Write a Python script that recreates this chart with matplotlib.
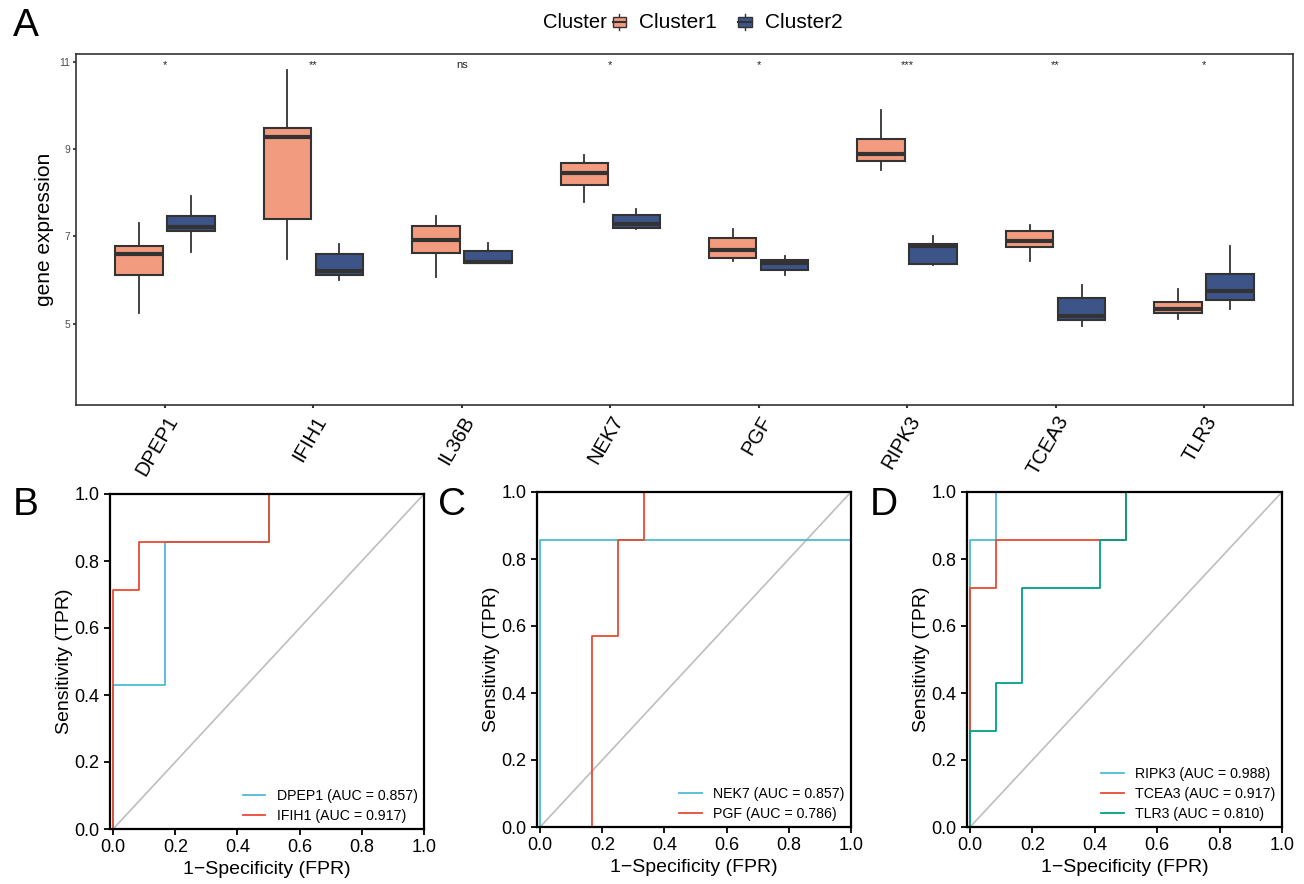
import matplotlib
matplotlib.use("Agg")
import matplotlib.pyplot as plt
from matplotlib.legend_handler import HandlerBase
from matplotlib.patches import Rectangle
from matplotlib.lines import Line2D

plt.rcParams['font.family'] = ['Liberation Sans', 'DejaVu Sans']

# ---- panel A data (box stats) ----
genes = ["DPEP1", "IFIH1", "IL36B", "NEK7", "PGF", "RIPK3", "TCEA3", "TLR3"]
signif = ["*", "**", "ns", "*", "*", "***", "**", "*"]
# each entry: whisker low, q1, median, q3, whisker high
c1_stats = [
    [5.24, 6.12, 6.61, 6.78, 7.32],
    [6.48, 7.39, 9.27, 9.48, 10.81],
    [6.07, 6.62, 6.91, 7.25, 7.47],
    [7.78, 8.19, 8.45, 8.69, 8.87],
    [6.43, 6.50, 6.68, 6.97, 7.17],
    [8.53, 8.73, 8.89, 9.24, 9.90],
    [6.43, 6.75, 6.90, 7.13, 7.26],
    [5.12, 5.24, 5.34, 5.51, 5.79],
]
c2_stats = [
    [6.65, 7.13, 7.22, 7.48, 7.92],
    [6.00, 6.11, 6.21, 6.60, 6.82],
    [6.39, 6.39, 6.42, 6.67, 6.86],
    [7.17, 7.19, 7.29, 7.49, 7.64],
    [6.11, 6.23, 6.39, 6.47, 6.55],
    [6.35, 6.37, 6.79, 6.83, 7.00],
    [4.95, 5.09, 5.17, 5.60, 5.90],
    [5.33, 5.55, 5.76, 6.13, 6.78],
]

# ---- ROC data (FPR / TPR steps) ----
fpr_dpep1 = [0, 0, 0.1667, 0.1667, 0.5, 0.5, 1]
tpr_dpep1 = [0, 0.4286, 0.4286, 0.8571, 0.8571, 1, 1]
fpr_ifih1 = [0, 0, 0.0833, 0.0833, 0.5, 0.5, 1]
tpr_ifih1 = [0, 0.7143, 0.7143, 0.8571, 0.8571, 1, 1]

fpr_nek7 = [0, 0, 1, 1]
tpr_nek7 = [0, 0.8571, 0.8571, 1]
fpr_pgf = [0, 0.1667, 0.1667, 0.25, 0.25, 0.3333, 0.3333, 1]
tpr_pgf = [0, 0, 0.5714, 0.5714, 0.8571, 0.8571, 1, 1]

fpr_ripk3 = [0, 0, 0.0833, 0.0833, 1]
tpr_ripk3 = [0, 0.8571, 0.8571, 1, 1]
fpr_tcea3 = [0, 0, 0.0833, 0.0833, 0.5, 0.5, 1]
tpr_tcea3 = [0, 0.7143, 0.7143, 0.8571, 0.8571, 1, 1]
fpr_tlr3 = [0, 0, 0.0833, 0.0833, 0.1667, 0.1667, 0.4167, 0.4167, 0.5, 0.5, 1]
tpr_tlr3 = [0, 0.2857, 0.2857, 0.4286, 0.4286, 0.7143, 0.7143, 0.8571, 0.8571, 1, 1]

col1 = "#F39B7F"
col2 = "#3C5488"
edge = "#333333"
blue = "#4DBBD5"
red = "#E64B35"
green = "#00A087"


def to_bxp(stats):
    return [dict(whislo=s[0], q1=s[1], med=s[2], q3=s[3], whishi=s[4], fliers=[]) for s in stats]


class BoxHandler(HandlerBase):
    def create_artists(self, legend, orig_handle, xd, yd, width, height, fontsize, trans):
        cx = xd + width / 2
        w = height * 0.9
        r = Rectangle((cx - w / 2, yd + height * 0.05), w, height * 0.7,
                      facecolor=orig_handle.get_facecolor(), edgecolor=edge, lw=1, transform=trans)
        m = Line2D([cx - w / 2, cx + w / 2], [yd + height * 0.4] * 2, color=edge, lw=1.5, transform=trans)
        wl = Line2D([cx, cx], [yd - height * 0.15, yd + height * 0.05], color=edge, lw=1, transform=trans)
        wh = Line2D([cx, cx], [yd + height * 0.75, yd + height * 0.9], color=edge, lw=1, transform=trans)
        return [wl, wh, r, m]


fig = plt.figure(figsize=(13.04, 8.84), dpi=100)
W, H = 1304, 884


def axes_px(l, t, r, b):
    return fig.add_axes([l / W, 1 - b / H, (r - l) / W, (b - t) / H])


# ---- panel A ----
ax = axes_px(76, 54, 1293, 405)
pos = list(range(1, len(genes) + 1))
for stats, off, col in [(c1_stats, -0.175, col1), (c2_stats, 0.175, col2)]:
    ax.bxp(to_bxp(stats), positions=[p + off for p in pos], widths=0.32, patch_artist=True,
           showcaps=False, showfliers=False,
           boxprops=dict(facecolor=col, edgecolor=edge, linewidth=1.5),
           medianprops=dict(color=edge, linewidth=3),
           whiskerprops=dict(color=edge, linewidth=1.3))
for p, s in zip(pos, signif):
    if s == "ns":
        ax.text(p, 10.93, s, ha="center", va="center", fontsize=8, color="#222222")
    else:
        ax.text(p, 10.93, s, ha="center", va="center", fontsize=8, color="#222222")
ax.set_xlim(0.4, 8.6)
ax.set_ylim(3.14, 11.18)
ax.set_yticks([5, 7, 9, 11])
ax.set_yticklabels(["5", "7", "9", "11"])
ax.tick_params(axis="y", labelsize=7.5, colors="#4D4D4D", length=2, width=1.5, pad=2)
ax.tick_params(axis="x", length=2, width=1.5, color="#333333")
ax.set_xticks(pos)
ax.set_xticklabels(genes, rotation=60, ha="right", rotation_mode="anchor", fontsize=14.5)
ax.set_ylabel("gene expression", fontsize=15, labelpad=4)
for sp in ax.spines.values():
    sp.set_color("#333333")
    sp.set_linewidth(1.2)

fig.text(543 / W, 1 - 22 / H, "Cluster", fontsize=14.5, ha="left", va="center")
h1 = Rectangle((0, 0), 1, 1, facecolor=col1)
h2 = Rectangle((0, 0), 1, 1, facecolor=col2)
fig.legend([h1, h2], ["Cluster1", "Cluster2"], ncol=2, frameon=False, fontsize=15,
           loc="center left", bbox_to_anchor=(610 / W, 1 - 22 / H),
           handler_map={Rectangle: BoxHandler()}, handlelength=0.9, handletextpad=0.5,
           columnspacing=0.9, borderaxespad=0, borderpad=0)


# ---- ROC panels ----
def roc_panel(box, curves):
    a = axes_px(*box)
    a.plot([0, 1], [0, 1], color="#BEBEBE", lw=1.2)
    for fx, ty, col, lab in curves:
        a.plot(fx, ty, color=col, lw=1.3, label=lab)
    a.set_xlim(-0.01, 1.0)
    a.set_ylim(0, 1.0)
    a.set_xticks([0, 0.2, 0.4, 0.6, 0.8, 1.0])
    a.set_yticks([0, 0.2, 0.4, 0.6, 0.8, 1.0])
    a.set_xticklabels(["0.0", "0.2", "0.4", "0.6", "0.8", "1.0"])
    a.set_yticklabels(["0.0", "0.2", "0.4", "0.6", "0.8", "1.0"])
    a.tick_params(labelsize=13, length=4, width=1.3, colors="black")
    for sp in a.spines.values():
        sp.set_color("black")
        sp.set_linewidth(1.6)
    a.set_xlabel("1\u2212Specificity (FPR)", fontsize=14, labelpad=3)
    a.set_ylabel("Sensitivity (TPR)", fontsize=14, labelpad=1)
    a.legend(loc="lower right", frameon=False, fontsize=10.2, handlelength=1.6,
             handletextpad=0.8, labelspacing=0.4, borderaxespad=0.05)
    return a


roc_panel((110, 494, 424, 829), [
    (fpr_dpep1, tpr_dpep1, blue, "DPEP1 (AUC = 0.857)"),
    (fpr_ifih1, tpr_ifih1, red, "IFIH1 (AUC = 0.917)"),
])
roc_panel((537, 492, 851, 827), [
    (fpr_nek7, tpr_nek7, blue, "NEK7 (AUC = 0.857)"),
    (fpr_pgf, tpr_pgf, red, "PGF (AUC = 0.786)"),
])
roc_panel((967, 492, 1282, 827), [
    (fpr_ripk3, tpr_ripk3, blue, "RIPK3 (AUC = 0.988)"),
    (fpr_tcea3, tpr_tcea3, red, "TCEA3 (AUC = 0.917)"),
    (fpr_tlr3, tpr_tlr3, green, "TLR3 (AUC = 0.810)"),
])

for lab, x, y in [("A", 26, 26), ("B", 26, 505), ("C", 452, 505), ("D", 884, 505)]:
    fig.text(x / W, 1 - y / H, lab, fontsize=28, ha="center", va="center")

fig.savefig("out.png", dpi=100)
